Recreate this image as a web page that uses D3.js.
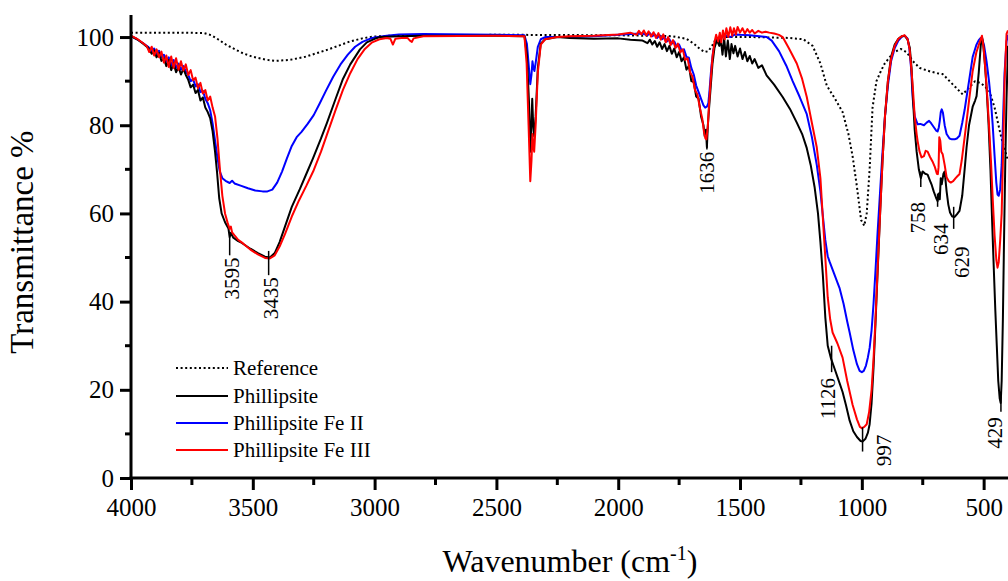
<!DOCTYPE html>
<html>
<head>
<meta charset="utf-8">
<script src="https://cdn.jsdelivr.net/npm/d3@7"></script>
<style>
  body { margin: 0; background: #fff; }
  text { font-family: "Liberation Serif", "Times New Roman", serif; }
</style>
</head>
<body>
<div id="chart"></div>
<script>
// FTIR spectra, [wavenumber, transmittance %]
var reference = [[4000,101],[3800,101],[3700,100.9],[3670,100.4],[3643,99.5],[3610,98.3],[3573,97.2],[3540,96.3],[3504,95.6],[3450,94.9],[3409,94.6],[3350,94.8],[3286,95.5],[3200,97],[3150,98],[3101,99],[3050,99.7],[3007,100.1],[2900,100.4],[2500,100.5],[2400,100.5],[2000,100.4],[1780,100.2],[1720,99.6],[1690,98.5],[1665,97.3],[1645,96.6],[1630,96.8],[1615,98],[1600,99.5],[1580,100],[1450,100],[1300,99.8],[1240,99.5],[1202,98],[1170,94],[1144,89],[1110,86],[1079,83],[1055,78],[1038,73],[1020,66],[1003,58.5],[990,57.2],[980,60],[968,70],[956,84],[940,90],[920,92.5],[906,94],[870,96.5],[840,97.3],[815,96.5],[790,94.5],[763,93],[720,92.2],[690,91.8],[668,91.6],[645,90.3],[615,88.6],[586,87],[560,88.5],[535,90],[510,89.5],[490,88.5],[476,87.7],[455,84],[435,79],[422,76],[400,72]];

var phillipsite = [[4000,100.2],[3975,99.5],[3950,98.5],[3930,97.6],[3915,96.2],[3905,97],[3895,95.4],[3885,96.4],[3875,94.6],[3865,95.2],[3855,93.4],[3845,94.8],[3835,92.5],[3825,94],[3815,92],[3805,93.2],[3795,91.5],[3785,92.8],[3775,91.4],[3765,90.3],[3755,88.6],[3745,89.2],[3735,87.3],[3725,88],[3715,85.6],[3705,86.3],[3695,84],[3685,83],[3675,81.6],[3665,78.6],[3655,74],[3647,69.5],[3638,63.5],[3628,60],[3614,58],[3600,56.6],[3595,54.6],[3590,55.6],[3580,54.5],[3560,53.7],[3545,53.3],[3510,52],[3479,51],[3450,50.2],[3430,50],[3410,51],[3390,53.5],[3368,57],[3340,61.5],[3307,65.5],[3280,69],[3253,72.5],[3220,77],[3196,80.5],[3160,86],[3130,90.5],[3100,93.8],[3060,97.2],[3032,98.8],[3000,99.6],[2978,100],[2900,100.2],[2800,100.3],[2500,100.3],[2385,100.2],[2375,96],[2366,85],[2361,74],[2357,79],[2353,86],[2349,80],[2345,77.5],[2339,82],[2330,93],[2318,98.5],[2300,99.5],[2250,100],[2200,99.8],[2100,99.6],[2000,99.7],[1950,99.4],[1900,99.2],[1880,98.6],[1870,99.4],[1860,98.3],[1850,99.1],[1840,97.8],[1830,98.8],[1820,97.3],[1810,98.4],[1800,96.8],[1790,98],[1780,96.2],[1770,97.4],[1760,95.4],[1750,96.6],[1740,94.5],[1730,95.4],[1720,92.6],[1710,93.5],[1700,90],[1690,89.8],[1680,86.5],[1670,86],[1660,82],[1650,80],[1645,77.5],[1640,79],[1636,75],[1632,80],[1627,84],[1620,89],[1613,94],[1605,97.5],[1595,99.3],[1585,98],[1580,100],[1572,96],[1565,99.6],[1558,95.6],[1550,99.2],[1542,95],[1535,98.4],[1527,96.3],[1520,98],[1510,95.6],[1500,97.4],[1490,95],[1480,96.6],[1470,94.5],[1460,95.7],[1450,94],[1440,95],[1425,93],[1410,93.6],[1391,91.3],[1360,89.2],[1325,86.4],[1295,83.7],[1267,80.6],[1245,78],[1226,74.8],[1210,71],[1194,66],[1180,60],[1170,53.5],[1160,46],[1150,36.5],[1140,30],[1126,27],[1110,24.5],[1090,21.3],[1079,19.5],[1065,16.5],[1050,13],[1035,10.6],[1020,9.3],[1005,8.4],[997,8.3],[985,8.9],[975,10.3],[968,12.2],[960,17],[952,25],[944,35],[935,47],[925,60],[915,72],[905,82],[893,90],[880,95.5],[865,98.3],[850,99.6],[835,100.2],[824,100.3],[812,99.4],[803,97.5],[796,93],[789,85],[783,79],[775,74],[766,70],[758,68],[750,69.5],[740,69],[730,68.8],[720,67.4],[714,66.6],[705,65],[695,63.5],[689,62.8],[684,64.5],[680,63.2],[676,68],[672,66.6],[665,69],[660,69.5],[652,65],[645,62],[638,60.2],[629,59.3],[619,59.2],[610,59.8],[599,60.6],[588,64],[578,70],[570,75],[560,80],[545,84.2],[535,85.6],[529,86.6],[520,92],[512,98],[507,100],[502,98.5],[495,94],[488,88.5],[480,80.5],[472,70],[465,58],[458,47],[452,38],[446,30],[440,22],[434,18],[430,17],[426,22],[421,36],[416,55],[411,72],[406,86],[400,98]];

var feII = [[4000,100.2],[3975,99.5],[3950,98.6],[3930,97.8],[3915,96.8],[3905,97.4],[3895,96.2],[3885,96.9],[3875,95.4],[3865,96],[3855,94.4],[3845,95.4],[3835,93.6],[3825,94.8],[3815,93],[3805,94],[3795,92.6],[3785,93.4],[3775,92.2],[3765,91.4],[3755,90],[3745,90.4],[3735,88.8],[3725,89.3],[3715,87.5],[3705,87.8],[3695,86],[3685,85],[3675,83.4],[3665,80.4],[3655,76.5],[3645,72.6],[3636,69.6],[3625,68],[3612,67.4],[3595,66.9],[3585,67.4],[3575,66.8],[3550,66.3],[3520,65.7],[3490,65.2],[3460,65],[3440,65],[3420,65.4],[3400,67],[3380,69.5],[3360,72.5],[3340,75.3],[3320,77.3],[3300,78.5],[3275,80.3],[3250,82.3],[3225,85],[3200,87.8],[3170,91],[3140,93.8],[3110,96],[3080,97.8],[3050,98.9],[3020,99.6],[3000,99.9],[2950,100.3],[2900,100.6],[2800,100.7],[2500,100.5],[2385,100.4],[2375,98.5],[2368,94],[2361,89.3],[2356,91.5],[2352,94.5],[2348,93],[2344,92.3],[2338,94.5],[2330,97.8],[2318,99.5],[2300,100],[2200,100],[2100,100.2],[2000,100.5],[1950,100.7],[1900,100.8],[1880,100.4],[1870,100.9],[1860,100.2],[1850,100.6],[1840,99.8],[1830,100.4],[1820,99.5],[1810,100],[1800,99],[1790,99.5],[1780,98.5],[1770,99],[1760,97.8],[1750,98.3],[1740,97],[1730,97.2],[1720,95.5],[1710,95.3],[1700,93],[1690,91.5],[1680,89],[1670,87.5],[1660,86],[1650,84.5],[1643,84],[1636,84.2],[1630,85],[1625,88],[1618,93],[1610,97],[1600,99],[1590,99.6],[1583,99],[1575,100],[1560,100.4],[1540,100],[1520,100.6],[1500,100.5],[1460,100.4],[1420,100.2],[1391,100],[1370,99.2],[1340,96.8],[1310,93.5],[1284,90],[1255,86.4],[1226,82.5],[1205,77.3],[1185,71],[1170,65],[1161,60],[1150,54],[1140,50.3],[1132,49],[1115,46.5],[1100,44.3],[1091,43],[1075,39.5],[1060,35.5],[1050,33],[1035,29],[1020,25.8],[1009,24.3],[1000,24],[992,24.3],[983,25.5],[975,27.4],[968,29.5],[960,33.5],[952,39.5],[944,47],[935,56],[925,65],[915,74],[905,82],[893,89],[880,94.5],[865,97.5],[850,99.2],[835,100.1],[824,100.3],[812,99.6],[805,97.5],[798,93],[791,86],[783,82],[771,80.2],[760,80.3],[745,80],[734,80.6],[724,81],[715,80.4],[705,79.6],[695,78.8],[689,78.6],[684,79.5],[680,81],[676,83],[672,83.6],[667,82.8],[660,80],[652,78],[640,77],[630,76.8],[619,76.8],[610,77],[599,77.6],[588,80.5],[578,83.5],[570,86.4],[560,90],[545,95.5],[530,98.2],[520,99.3],[512,99.8],[506,99.6],[498,98],[488,94.5],[478,90],[470,85.5],[463,80.2],[455,73],[448,67],[443,64.3],[438,64],[432,65.5],[426,71],[420,82],[414,92],[406,99],[400,100.5]];

var feIII = [[4000,100.3],[3975,99.6],[3950,98.6],[3935,97.9],[3925,96.6],[3915,97.8],[3905,95.8],[3895,97.2],[3885,95.4],[3875,96.7],[3865,94.2],[3855,95.8],[3845,93.2],[3835,95.6],[3825,93],[3815,95.2],[3805,92.6],[3795,94.5],[3785,92.4],[3775,93.8],[3765,91.4],[3755,92.5],[3745,90.2],[3735,90.8],[3725,88.4],[3715,89.6],[3705,87.2],[3695,88],[3685,85.6],[3675,86.5],[3665,84],[3655,82],[3645,77],[3635,70],[3625,64],[3614,60],[3603,57.8],[3595,56.5],[3590,57],[3585,55.7],[3575,55],[3560,54],[3540,53.2],[3510,51.8],[3479,50.7],[3450,49.9],[3430,49.8],[3410,50.5],[3390,52.5],[3368,55.3],[3340,59.3],[3310,63],[3280,66.3],[3250,69.8],[3220,74],[3196,77.8],[3160,83.5],[3130,88],[3100,91.8],[3070,95],[3040,97.3],[3010,98.8],[2980,99.5],[2950,99.8],[2935,99.6],[2925,98.3],[2915,99.6],[2890,99.8],[2865,99.8],[2855,99.2],[2847,98.9],[2840,99.7],[2800,100.2],[2500,100.3],[2385,100.2],[2376,94],[2368,80],[2361,67.3],[2356,72],[2352,78],[2348,75],[2345,74],[2339,80],[2330,92],[2318,98.3],[2300,99.5],[2250,100],[2200,100.2],[2100,100.3],[2000,100.6],[1950,101],[1925,100.5],[1915,101.4],[1905,100.6],[1895,101.5],[1885,100.4],[1875,101.3],[1865,100.1],[1855,101.1],[1845,99.8],[1835,100.9],[1825,99.4],[1815,100.6],[1805,98.8],[1795,100],[1785,98.2],[1775,99.3],[1765,97.5],[1755,98.5],[1745,96.5],[1735,97.2],[1725,94.8],[1715,95.2],[1705,92],[1695,91],[1685,88],[1675,87],[1665,84],[1655,81.5],[1648,78.5],[1642,77],[1638,76.8],[1632,80],[1627,85],[1620,90.5],[1613,95.5],[1605,98.8],[1598,100.5],[1590,99],[1583,101],[1577,98.8],[1570,101.5],[1563,99.5],[1556,102],[1548,100],[1540,102.2],[1532,100.3],[1525,102],[1517,100.6],[1510,102.3],[1500,101],[1490,102],[1480,100.8],[1470,101.8],[1460,101],[1450,101.6],[1440,100.8],[1425,101.4],[1410,101],[1395,101.2],[1380,101],[1360,100.8],[1340,100.5],[1325,100],[1300,97.5],[1267,94],[1245,90.5],[1226,86.4],[1205,80.5],[1185,75],[1170,68],[1161,59.8],[1150,50],[1140,41],[1130,36],[1120,33],[1100,30.5],[1079,27.3],[1060,22],[1038,16.6],[1020,13.3],[1008,11.6],[1000,11.3],[990,11.6],[980,12.2],[970,15],[960,20],[952,27],[944,36],[935,47.5],[925,60],[915,72],[905,82],[893,90],[880,95],[865,98],[850,99.6],[835,100.2],[824,100.4],[812,99.5],[804,97.3],[797,93],[790,88],[783,82],[775,78],[771,76.4],[763,74],[755,72.7],[745,73],[738,74.2],[730,74],[720,72.8],[710,71.8],[700,70.5],[692,69],[688,68.9],[685,70.5],[682,77.3],[678,76.5],[674,74],[668,73.4],[660,71],[652,68.2],[643,67.3],[635,67],[625,67.3],[615,68],[605,68.6],[599,68.9],[590,72],[575,78.6],[560,85.5],[545,92.3],[530,96.5],[520,98.2],[512,99.5],[507,100.3],[500,97.5],[492,92],[485,86.4],[478,80],[470,72],[463,63.6],[455,55],[448,49.5],[443,47.7],[438,49],[432,54],[426,60],[420,74],[414,90],[406,100.7],[400,101.5]];

var seriesNames = ["Reference", "Phillipsite", "Phillipsite Fe II", "Phillipsite Fe III"];
var seriesColors = ["#000000", "#000000", "#0000ff", "#ff0000"];
var seriesDash = ["2,2.6", null, null, null];

var xTicks = [4000, 3500, 3000, 2500, 2000, 1500, 1000, 500];
var yTicks = [0, 20, 40, 60, 80, 100];

// peak labels: text, position of the mark (cm-1), top & bottom of the mark
var peakText = ["3595", "3435", "1636", "1126", "997", "758", "634", "629", "429"];
var peakPos = [3595, 3435, 1636, 1124, 997, 758, 689, 623, 429];
var peakLineTop = [54.5, 51.5, 76, 30, 11.5, 69.5, 64.5, 61.5, 18.5];
var peakLineBottom = [50.5, 46, 74.5, 24, 6, 66, 61.5, 56.5, 15];
var peakTextTop = [50, 45.5, 74, 22.7, 9.8, 62.6, 57.7, 52.5, 13.8];
var peakTextDx = [2, 2, 0, -4, 21, -3, 3, 8, -6];

var width = 1008, height = 581;
var margin = {left: 131, top: 15, bottom: 103};

var svg = d3.select("#chart").append("svg")
  .attr("width", width)
  .attr("height", height);

var x = d3.scaleLinear().domain([4000, 400]).range([margin.left, width]);
var y = d3.scaleLinear().domain([0, 105]).range([height - margin.bottom, margin.top]);

svg.append("clipPath").attr("id", "clip")
  .append("rect")
  .attr("x", margin.left).attr("y", 0)
  .attr("width", width - margin.left).attr("height", height - margin.bottom);

var line = d3.line()
  .x(function(d) { return x(d[0]); })
  .y(function(d) { return y(d[1]); });

var plot = svg.append("g").attr("clip-path", "url(#clip)");
var allSeries = [reference, phillipsite, feII, feIII];

// draw in order: reference, blue, black, red (red on top like the original)
[0, 2, 1, 3].forEach(function(i) {
  plot.append("path")
    .attr("d", line(allSeries[i]))
    .attr("fill", "none")
    .attr("stroke", seriesColors[i])
    .attr("stroke-width", 2)
    .attr("stroke-linejoin", "round")
    .attr("stroke-dasharray", seriesDash[i]);
});

// peak annotations
var peaks = svg.append("g");
peakText.forEach(function(t, i) {
  var px = x(peakPos[i]);
  peaks.append("line")
    .attr("x1", px).attr("x2", px)
    .attr("y1", y(peakLineTop[i])).attr("y2", y(peakLineBottom[i]))
    .attr("stroke", "#000").attr("stroke-width", 1.5);
  peaks.append("text")
    .attr("transform", "translate(" + (px + peakTextDx[i]) + "," + y(peakTextTop[i]) + ") rotate(-90)")
    .attr("text-anchor", "end")
    .attr("dy", "0.35em")
    .attr("font-size", 21)
    .text(t);
});

// axes
var xAxis = svg.append("g")
  .attr("transform", "translate(0," + y(0) + ")")
  .call(d3.axisBottom(x).tickValues(xTicks).tickSize(12).tickPadding(8).tickFormat(d3.format("d")));
xAxis.append("g").selectAll("line")
  .data([3750, 3250, 2750, 2250, 1750, 1250, 750])
  .enter().append("line")
  .attr("x1", function(d) { return x(d); }).attr("x2", function(d) { return x(d); })
  .attr("y1", 0).attr("y2", 7)
  .attr("stroke", "#000").attr("stroke-width", 3);

var yAxis = svg.append("g")
  .attr("transform", "translate(" + margin.left + ",0)")
  .call(d3.axisLeft(y).tickValues(yTicks).tickSize(11).tickPadding(6));
yAxis.append("g").selectAll("line")
  .data([10, 30, 50, 70, 90])
  .enter().append("line")
  .attr("y1", function(d) { return y(d); }).attr("y2", function(d) { return y(d); })
  .attr("x1", 0).attr("x2", -6)
  .attr("stroke", "#000").attr("stroke-width", 3);

xAxis.select(".domain").remove();
yAxis.select(".domain").remove();
svg.append("line")
  .attr("x1", margin.left - 1.5).attr("x2", width)
  .attr("y1", y(0)).attr("y2", y(0))
  .attr("stroke", "#000").attr("stroke-width", 3);
svg.append("line")
  .attr("x1", margin.left).attr("x2", margin.left)
  .attr("y1", margin.top).attr("y2", y(0) + 1.5)
  .attr("stroke", "#000").attr("stroke-width", 3);

svg.selectAll(".tick line").attr("stroke-width", 3);
svg.selectAll(".tick text")
  .attr("font-size", 25)
  .attr("fill", "#000");

// axis titles
var xt = svg.append("text")
  .attr("x", 570).attr("y", 572)
  .attr("text-anchor", "middle")
  .attr("font-size", 32);
xt.append("tspan").text("Wavenumber (cm");
xt.append("tspan").attr("dy", -12).attr("font-size", 20).text("-1");
xt.append("tspan").attr("dy", 12).text(")");

svg.append("text")
  .attr("transform", "translate(33," + y(53.5) + ") rotate(-90)")
  .attr("text-anchor", "middle")
  .attr("font-size", 33)
  .text("Transmittance %");

// legend
var legend = svg.append("g");
var legendY = [368, 396, 423, 450];
seriesNames.forEach(function(name, i) {
  legend.append("line")
    .attr("x1", 176).attr("x2", 228)
    .attr("y1", legendY[i]).attr("y2", legendY[i])
    .attr("stroke", seriesColors[i])
    .attr("stroke-width", 2)
    .attr("stroke-dasharray", seriesDash[i]);
  legend.append("text")
    .attr("x", 233).attr("y", legendY[i])
    .attr("dy", "0.33em")
    .attr("font-size", 21)
    .text(name);
});
</script>
</body>
</html>
